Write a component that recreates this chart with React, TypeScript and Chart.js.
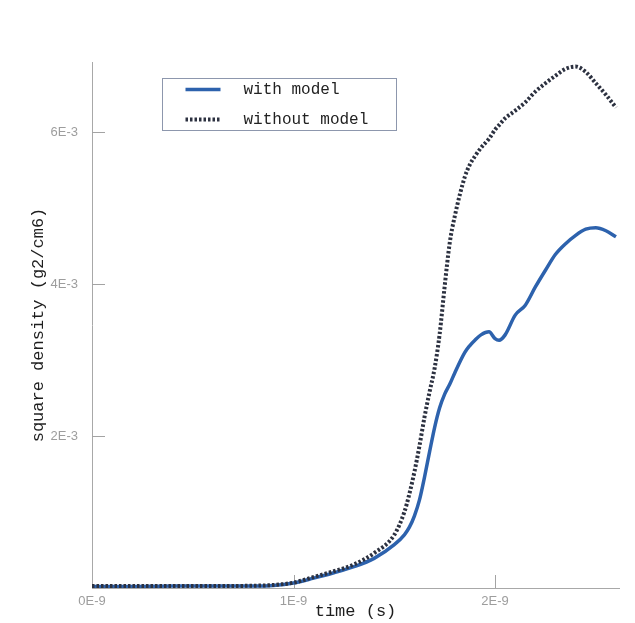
import React, { useEffect, useRef } from "react";
import { Chart, registerables } from "chart.js";

Chart.register(...registerables);

// time in units of 1E-9 s
const timeNs = [
  0, 0.2, 0.4, 0.6, 0.8, 0.9, 1.0, 1.1, 1.2, 1.3, 1.4, 1.5, 1.55, 1.575, 1.6, 1.625, 1.65,
  1.675, 1.7, 1.725, 1.75, 1.775, 1.8, 1.85, 1.875, 1.9, 1.93, 1.97, 2.0, 2.02, 2.05, 2.1,
  2.15, 2.2, 2.25, 2.3, 2.35, 2.4, 2.45, 2.5, 2.55, 2.6,
];

// square density in units of 1E-3 g2/cm6
const withModel = [
  0.02, 0.02, 0.026, 0.026, 0.026, 0.033, 0.066, 0.13, 0.2, 0.28, 0.39, 0.57, 0.7, 0.8,
  0.95, 1.16, 1.46, 1.79, 2.11, 2.37, 2.55, 2.68, 2.83, 3.1, 3.19, 3.26, 3.33, 3.37, 3.28,
  3.26, 3.33, 3.59, 3.72, 3.96, 4.18, 4.39, 4.53, 4.64, 4.72, 4.74, 4.7, 4.62,
];

const withoutModel = [
  0.026, 0.026, 0.026, 0.026, 0.03, 0.04, 0.07, 0.145, 0.22, 0.31, 0.46, 0.7, 1.0, 1.24,
  1.53, 1.87, 2.25, 2.58, 2.89, 3.34, 3.97, 4.54, 4.89, 5.41, 5.57, 5.68, 5.79, 5.91, 6.03,
  6.09, 6.18, 6.28, 6.39, 6.53, 6.64, 6.74, 6.83, 6.86, 6.79, 6.64, 6.49, 6.32,
];

const seriesLabels = ["with model", "without model"];
const xTickValues = [0, 1, 2];
const xTickLabels = ["0E-9", "1E-9", "2E-9"];
const yTickValues = [2, 4, 6];
const yTickLabels = ["2E-3", "4E-3", "6E-3"];

const BLUE = "#2d62ad";
const DARK = "#2c3140";
const MONO = "'Liberation Mono', 'DejaVu Sans Mono', monospace";

const inwardTicks = {
  id: "inwardTicks",
  beforeDatasetsDraw(chart: any) {
    const { ctx, chartArea, scales } = chart;
    const x = scales.x;
    const y = scales.y;
    ctx.save();
    ctx.strokeStyle = "#a3a3a3";
    ctx.lineWidth = 1;
    xTickValues.forEach((v) => {
      if (v === 0) return;
      const px = Math.round(x.getPixelForValue(v)) + 0.5;
      ctx.beginPath();
      ctx.moveTo(px, chartArea.bottom);
      ctx.lineTo(px, chartArea.bottom - 13);
      ctx.stroke();
    });
    yTickValues.forEach((v) => {
      const py = Math.round(y.getPixelForValue(v)) + 0.5;
      ctx.beginPath();
      ctx.moveTo(chartArea.left, py);
      ctx.lineTo(chartArea.left + 13, py);
      ctx.stroke();
    });
    ctx.restore();
  },
};

const boxLegend = {
  id: "boxLegend",
  afterDraw(chart: any) {
    const { ctx, chartArea } = chart;
    const bx = chartArea.left + 70.5;
    const by = chartArea.top + 16.5;
    const bw = 234;
    const bh = 52;
    ctx.save();
    ctx.fillStyle = "#ffffff";
    ctx.fillRect(bx, by, bw, bh);
    ctx.strokeStyle = "#8d97ad";
    ctx.lineWidth = 1;
    ctx.strokeRect(bx, by, bw, bh);
    const rows = [by + 11, by + 41];
    chart.data.datasets.forEach((ds: any, i: number) => {
      const ry = rows[i];
      ctx.beginPath();
      ctx.strokeStyle = ds.borderColor;
      ctx.lineWidth = ds.borderWidth;
      ctx.lineCap = "butt";
      ctx.setLineDash(ds.borderDash || []);
      ctx.moveTo(bx + 23, ry);
      ctx.lineTo(bx + 58, ry);
      ctx.stroke();
      ctx.setLineDash([]);
      ctx.fillStyle = "#222222";
      ctx.font = `16px ${MONO}`;
      ctx.textBaseline = "middle";
      ctx.textAlign = "left";
      ctx.fillText(ds.label, bx + 81, ry);
    });
    ctx.restore();
  },
};

export default function App() {
  const canvasRef = useRef<HTMLCanvasElement | null>(null);

  useEffect(() => {
    const canvas = canvasRef.current;
    if (!canvas) return;
    const chart = new Chart(canvas, {
      type: "line",
      data: {
        datasets: [
          {
            label: seriesLabels[0],
            data: timeNs.map((t, i) => ({ x: t, y: withModel[i] })),
            borderColor: BLUE,
            backgroundColor: BLUE,
            borderWidth: 3.5,
            pointRadius: 0,
            cubicInterpolationMode: "monotone",
            order: 1,
          },
          {
            label: seriesLabels[1],
            data: timeNs.map((t, i) => ({ x: t, y: withoutModel[i] })),
            borderColor: DARK,
            backgroundColor: DARK,
            borderWidth: 4,
            borderDash: [2.5, 2],
            borderCapStyle: "butt",
            pointRadius: 0,
            cubicInterpolationMode: "monotone",
            order: 0,
          },
        ],
      },
      options: {
        animation: false,
        responsive: false,
        devicePixelRatio: 1,
        layout: { padding: { top: 62, right: 16, left: 0, bottom: 0 } },
        plugins: {
          legend: { display: false },
          tooltip: { enabled: false },
        },
        scales: {
          x: {
            type: "linear",
            min: 0,
            max: 2.615,
            afterBuildTicks: (s: any) => {
              s.ticks = xTickValues.map((v) => ({ value: v }));
            },
            afterFit: (s: any) => {
              s.height = 35;
            },
            ticks: {
              autoSkip: false,
              maxRotation: 0,
              padding: 6,
              color: "#9d9d9d",
              font: { family: "'Liberation Sans', Arial, sans-serif", size: 13 },
              callback: (v: any) => xTickLabels[xTickValues.indexOf(Number(v))] ?? "",
            },
            grid: { display: false, drawTicks: false },
            border: { display: true, color: "#a8a8a8", width: 1 },
            title: {
              display: true,
              text: "time (s)",
              color: "#1e1e1e",
              font: { family: MONO, size: 17, weight: "normal" },
              padding: { top: 0, bottom: 1 },
            },
          },
          y: {
            type: "linear",
            min: 0,
            max: 6.92,
            afterBuildTicks: (s: any) => {
              s.ticks = yTickValues.map((v) => ({ value: v }));
            },
            afterFit: (s: any) => {
              s.width = 92;
            },
            ticks: {
              autoSkip: false,
              padding: 14,
              color: "#9d9d9d",
              font: { family: "'Liberation Sans', Arial, sans-serif", size: 13 },
              callback: (v: any) => yTickLabels[yTickValues.indexOf(Number(v))] ?? "",
            },
            grid: { display: false, drawTicks: false },
            border: { display: true, color: "#a8a8a8", width: 1 },
            title: {
              display: true,
              text: "square density (g2/cm6)",
              color: "#1e1e1e",
              font: { family: MONO, size: 17, weight: "normal" },
              padding: { top: 28, bottom: 0 },
            },
          },
        },
      },
      plugins: [inwardTicks, boxLegend],
    } as any);
    return () => chart.destroy();
  }, []);

  return (
    <div
      style={{
        position: "absolute",
        left: 0,
        top: 0,
        width: 635,
        height: 623,
        background: "#ffffff",
      }}
    >
      <canvas ref={canvasRef} width={635} height={623} />
    </div>
  );
}
